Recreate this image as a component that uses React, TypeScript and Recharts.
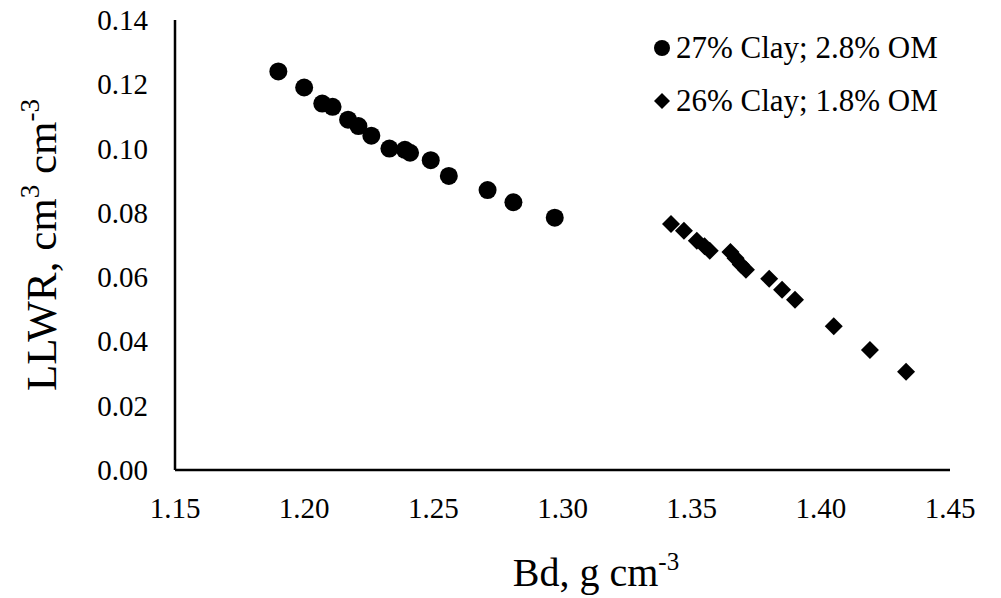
import { Label, Scatter, ScatterChart, XAxis, YAxis } from "recharts";

const FONT = '"Liberation Serif", "Times New Roman", serif';

// 27% clay, 2.8% OM
const clay27Bd = [1.19, 1.2, 1.207, 1.211, 1.217, 1.221, 1.226, 1.233, 1.239, 1.241, 1.249, 1.256, 1.271, 1.281, 1.297];
const clay27Llwr = [0.124, 0.119, 0.114, 0.113, 0.109, 0.107, 0.104, 0.1, 0.0996, 0.0987, 0.0964, 0.0915, 0.0871, 0.0833, 0.0785];

// 26% clay, 1.8% OM
const clay26Bd = [1.342, 1.347, 1.352, 1.355, 1.357, 1.365, 1.367, 1.369, 1.371, 1.38, 1.385, 1.39, 1.405, 1.419, 1.433];
const clay26Llwr = [0.0765, 0.0744, 0.0713, 0.0696, 0.0682, 0.0678, 0.0659, 0.0639, 0.0623, 0.0595, 0.0561, 0.053, 0.0447, 0.0373, 0.0306];

const xTicks = [1.15, 1.2, 1.25, 1.3, 1.35, 1.4, 1.45];
const yTicks = [0, 0.02, 0.04, 0.06, 0.08, 0.1, 0.12, 0.14];

const seriesNames = ["27% Clay; 2.8% OM", "26% Clay; 1.8% OM"];

const clay27 = clay27Bd.map((x, i) => ({ x, y: clay27Llwr[i] }));
const clay26 = clay26Bd.map((x, i) => ({ x, y: clay26Llwr[i] }));

const txt = { fontFamily: FONT, fill: "#000" };

const Dot = (p: any) => <circle cx={p.cx} cy={p.cy} r={9} fill="#000" />;
const Diamond = (p: any) => (
  <polygon
    points={`${p.cx},${p.cy - 9} ${p.cx + 9},${p.cy} ${p.cx},${p.cy + 9} ${p.cx - 9},${p.cy}`}
    fill="#000"
  />
);

const XTick = ({ x, y, payload }: any) => (
  <text x={x} y={y + 48} textAnchor="middle" fontSize={29} style={txt}>
    {Number(payload.value).toFixed(2)}
  </text>
);

const YTick = ({ x, y, payload }: any) => (
  <text x={x - 27} y={y + 10} textAnchor="end" fontSize={29} style={txt}>
    {Number(payload.value).toFixed(2)}
  </text>
);

const XTitle = ({ viewBox }: any) => (
  <text x={596} y={viewBox.y + 116} textAnchor="middle" fontSize={40} style={txt}>
    Bd, g cm
    <tspan fontSize={25} dy={-16}>-3</tspan>
  </text>
);

const YTitle = ({ viewBox }: any) => {
  const cx = 56;
  const cy = viewBox.y + 225;
  return (
    <text
      x={cx}
      y={cy}
      transform={`rotate(-90, ${cx}, ${cy})`}
      textAnchor="middle"
      fontSize={43}
      style={txt}
    >
      LLWR, cm
      <tspan fontSize={27} dy={-17}>3</tspan>
      <tspan dy={17}> cm</tspan>
      <tspan fontSize={27} dy={-17}>-3</tspan>
    </text>
  );
};

const LegendBox = () => (
  <svg width={340} height={120} style={{ position: "absolute", top: 20, left: 640 }}>
    <circle cx={22} cy={28} r={8} fill="#000" />
    <text x={36} y={38} fontSize={31} style={txt}>
      {seriesNames[0]}
    </text>
    <polygon points="22,73 30,81 22,89 14,81" fill="#000" />
    <text x={36} y={91} fontSize={31} style={txt}>
      {seriesNames[1]}
    </text>
  </svg>
);

export default function App() {
  return (
    <div style={{ position: "relative", width: 1001, height: 598, background: "#fff" }}>
      <style>{"body{margin:0}"}</style>
      <ScatterChart width={1001} height={598} margin={{ top: 20, right: 51, bottom: 38, left: 0 }}>
        <XAxis
          type="number"
          dataKey="x"
          domain={[1.15, 1.45]}
          ticks={xTicks}
          allowDataOverflow
          tickLine={false}
          tickSize={0}
          tickMargin={0}
          height={90}
          axisLine={{ stroke: "#000", strokeWidth: 2.5 }}
          tick={<XTick />}
        >
          <Label content={<XTitle />} />
        </XAxis>
        <YAxis
          type="number"
          dataKey="y"
          domain={[0, 0.14]}
          ticks={yTicks}
          allowDataOverflow
          tickLine={false}
          tickSize={0}
          tickMargin={0}
          width={175}
          axisLine={{ stroke: "#000", strokeWidth: 2.5 }}
          tick={<YTick />}
        >
          <Label content={<YTitle />} />
        </YAxis>
        <Scatter name={seriesNames[0]} data={clay27} fill="#000" shape={Dot} isAnimationActive={false} />
        <Scatter name={seriesNames[1]} data={clay26} fill="#000" shape={Diamond} isAnimationActive={false} />
      </ScatterChart>
      <LegendBox />
    </div>
  );
}
